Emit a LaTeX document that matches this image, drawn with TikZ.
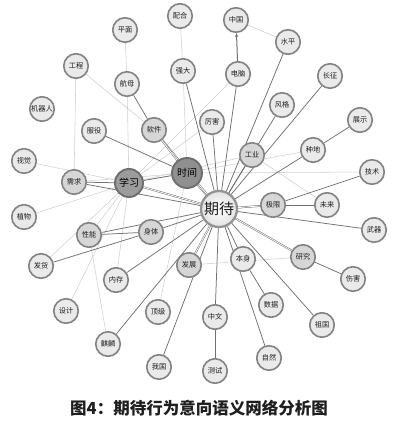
\documentclass[tikz,border=0pt]{standalone}
\usepackage{fontspec}
\newfontfamily\cjk{Noto Sans CJK SC}
\usetikzlibrary{backgrounds, arrows.meta}

\definecolor{rim}{HTML}{828282}
\definecolor{leaf}{HTML}{EAEAEA}
\definecolor{midleaf}{HTML}{D6D6D6}
\definecolor{hub}{HTML}{9C9C9C}
\definecolor{edge}{HTML}{707070}
\definecolor{pale}{HTML}{D0D0D0}
\definecolor{ink}{HTML}{1E1E1E}

\tikzset{
  word/.style={circle, draw=rim, line width=1.6pt, fill=leaf, minimum size=24.5pt,
    inner sep=0pt, text=ink, font=\cjk\fontsize{7.2}{8}\selectfont},
  midword/.style={word, fill=midleaf},
  hubword/.style={circle, draw=rim!85!black, line width=1.9pt, fill=hub, inner sep=0pt,
    text=black, font=\cjk\fontsize{10}{11}\selectfont},
  core/.style={word, draw=gray!85, line width=2.3pt, minimum size=36pt,
    inner color=white, outer color=gray!22, font=\cjk\fontsize{15}{16}\selectfont\color{black}},
  strong/.style={draw=edge, line width=0.75pt},
  faint/.style={draw=pale, line width=0.55pt},
  twin/.style={draw=edge, line width=0.5pt, double=white, double distance=0.8pt}
}

\begin{document}
\begin{tikzpicture}[x=1pt, y=-1pt]
    \useasboundingbox (0,0) rectangle (415,422);

    % centre and hubs
    \node[core] (qidai) at (219,209) {期待};
    \node[hubword, fill=hub!92!black, minimum size=30pt] (shijian) at (187,173) {时间};
    \node[hubword, minimum size=28pt] (xuexi) at (129,183) {学习};

    % upper ring
    \node[word] (pingmian) at (125,30) {平面};
    \node[word] (peihe) at (180,16) {配合};
    \node[word] (zhongguo) at (236,20) {中国};
    \node[word] (shuiping) at (288,42) {水平};
    \node[word] (gongcheng) at (76,66) {工程};
    \node[word] (qiangda) at (183,71) {强大};
    \node[word] (diannao) at (238,74) {电脑};
    \node[word] (changzheng) at (330,76) {长征};
    \node[word] (hangmu) at (127,84) {航母};
    \node[word] (fengge) at (282,105) {风格};
    \node[word] (jiqiren) at (42,109) {机器人};
    \node[word] (lihai) at (212,122) {厉害};
    \node[word] (zhanshi) at (360,120) {展示};
    \node[word] (fuyi) at (94,131) {服役};
    \node[midword] (ruanjian) at (154,130) {软件};
    \node[word] (zhongdi) at (313,150) {种地};
    \node[midword] (gongye) at (252,155) {工业};
    \node[word] (shijue) at (24,161) {视觉};
    \node[word] (jishu) at (372,172) {技术};
    \node[midword] (xuqiu) at (74,182) {需求};

    % middle ring
    \node[midword] (jixian) at (273,205) {极限};
    \node[word] (weilai) at (327,205) {未来};
    \node[word] (zhiwu) at (24,217) {植物};
    \node[word] (wuqi) at (374,230) {武器};
    \node[midword] (shenti) at (151,232) {身体};
    \node[midword] (xingneng) at (89,235) {性能};
    \node[midword] (yanjiu) at (303,257) {研究};
    \node[word] (benshen) at (243,259) {本身};
    \node[midword] (fazhan) at (189,265) {发展};
    \node[word] (fahuo) at (41,266) {发货};
    \node[word] (shanghai) at (353,279) {伤害};
    \node[word] (neicun) at (116,280) {内存};

    % lower ring
    \node[word] (shuju) at (271,305) {数据};
    \node[word] (sheji) at (66,311) {设计};
    \node[word] (dingji) at (158,312) {顶级};
    \node[word] (zhongwen) at (215,317) {中文};
    \node[word] (zuguo) at (322,325) {祖国};
    \node[word] (qilin) at (108,344) {麒麟};
    \node[word] (ziran) at (269,358) {自然};
    \node[word] (woguo) at (159,367) {我国};
    \node[word] (ceshi) at (215,371) {测试};

    \begin{pgfonlayer}{background}
    % weak ties
    \foreach \a/\b in {pingmian/hangmu, hangmu/xuexi, peihe/qiangda, qiangda/shijian,
        gongcheng/xuqiu, gongcheng/ruanjian, lihai/xuexi, diannao/xuexi,
        zhongguo/shuiping, shijue/xuexi, zhiwu/xuexi, fahuo/xuexi, sheji/xuexi,
        neicun/xuexi, xingneng/xuexi, dingji/shijian, qilin/xingneng, jishu/shijian,
        zhongdi/xuexi, gongye/xuexi, gongye/weilai, fazhan/yanjiu, xuqiu/shijian}
      \draw[faint] (\a) -- (\b);

    % strong ties
    \foreach \a in {xuqiu, qiangda, lihai, shuiping, fengge, changzheng, gongye,
        zhongdi, wuqi, benshen, zuguo, ziran, zhongwen, woguo, qilin, neicun,
        shenti, xingneng, diannao}
      \draw[strong] (qidai) -- (\a);
    \foreach \a/\b in {hangmu/ruanjian, fuyi/shijian, jishu/jixian, jixian/weilai,
        yanjiu/shanghai, zhanshi/zhongdi, shuju/benshen, zhongwen/ceshi,
        fahuo/shenti, xingneng/shenti, xuqiu/xuexi, xuexi/shijian}
      \draw[strong] (\a) -- (\b);

    % doubled ties
    \foreach \a in {shijian, xuexi, ruanjian, jixian, yanjiu, fazhan}
      \draw[twin] (qidai) -- (\a);
    \draw[twin] (ruanjian) -- (shijian);
    \end{pgfonlayer}

    \draw[strong, line width=1pt, -{Stealth[length=4pt, width=3pt]}] (diannao) -- (zhongguo);

    % caption
    \node[text=ink, font=\cjk\bfseries\fontsize{16.5}{18}\selectfont] (caption) at (199,408)
      {图4：期待行为意向语义网络分析图};

\end{tikzpicture}
\end{document}
